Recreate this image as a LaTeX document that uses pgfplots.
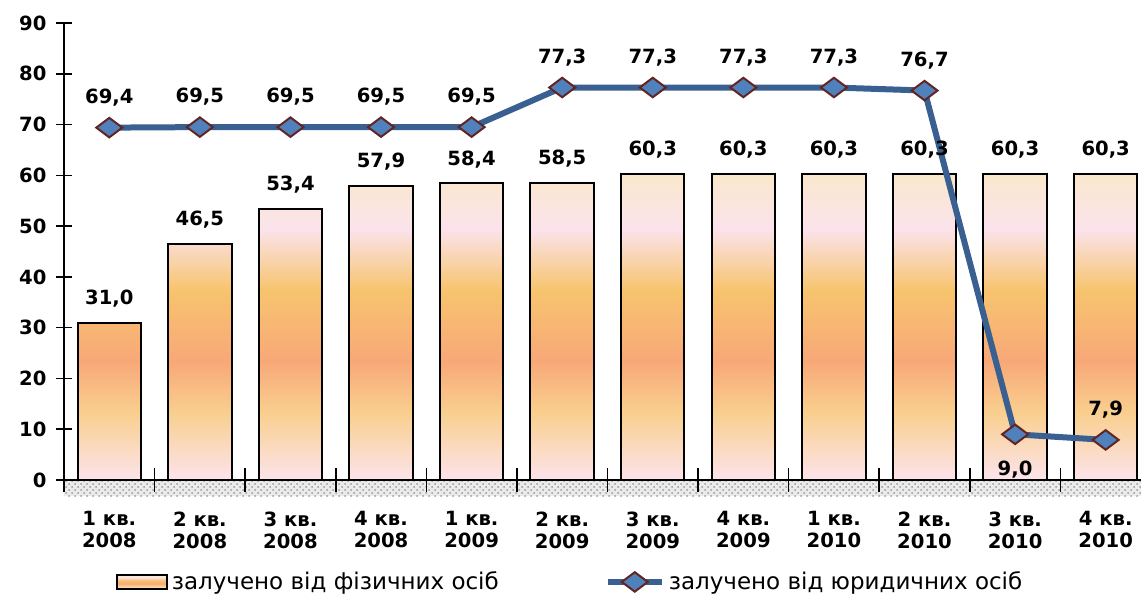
\documentclass[border=0pt]{standalone}
\usepackage{fontspec}
\setmainfont{DejaVu Sans}
\usepackage{pgfplots}
\usepackage{pgfplotstable}
\pgfplotsset{compat=1.18}
\usetikzlibrary{patterns}

\definecolor{pinkb}{HTML}{FCE4EC}
\definecolor{yel}{HTML}{F9CF8F}
\definecolor{sal}{HTML}{F8A878}
\definecolor{yo}{HTML}{F7C46E}
\definecolor{pinkt}{HTML}{FBE3EC}
\definecolor{beige}{HTML}{FAE8CC}
\definecolor{lineblue}{HTML}{3A6091}
\definecolor{mkfill}{HTML}{4F81BD}
\definecolor{mkdraw}{HTML}{632523}

\pgfdeclareverticalshading{barshade}{100bp}{color(0bp)=(pinkb); color(25bp)=(pinkb); color(36bp)=(yel); color(44.5bp)=(sal); color(56bp)=(yo); color(66bp)=(pinkt); color(75bp)=(beige); color(100bp)=(beige)}

\pgfplotsset{
  barleg/.style={legend image code/.code={\draw[##1, line width=0.8pt] (0pt,-3.5pt) rectangle (25pt,3.5pt);}},
  lineleg/.style={legend image code/.code={\draw[##1, mark repeat=2, mark phase=2] plot coordinates {(0pt,0pt) (13.5pt,0pt) (27pt,0pt)};}},
}

\pgfplotstableread{
x y
0 31.0
1 46.5
2 53.4
3 57.9
4 58.4
5 58.5
6 60.3
7 60.3
8 60.3
9 60.3
10 60.3
11 60.3
}\physical

\pgfplotstableread{
x y dy
0 69.4 15
1 69.5 15
2 69.5 15
3 69.5 15
4 69.5 15
5 77.3 15
6 77.3 15
7 77.3 15
8 77.3 15
9 76.7 15
10 9.0 -17.5
11 7.9 15
}\legal

\newcommand{\lblfont}{\bfseries\fontsize{9.8}{11}\selectfont}

\begin{document}
\begin{tikzpicture}
\useasboundingbox (-32pt,-57.5pt) rectangle (538.5pt,240pt);
\fill[black!8] (0pt,0pt) rectangle (538.5pt,-8pt);
\fill[pattern=crosshatch dots, pattern color=black!40] (0pt,0pt) rectangle (538.5pt,-8pt);
\begin{axis}[
  scale only axis,
  width=538.5pt, height=228.5pt,
  xmin=-0.5, xmax=11.39,
  ymin=0, ymax=90,
  clip=false,
  axis lines=left,
  axis line style={-, line width=1pt, black},
  ytick={0,10,...,90},
  xtick={0,...,11},
  xticklabels={{1 кв.\\2008},{2 кв.\\2008},{3 кв.\\2008},{4 кв.\\2008},{1 кв.\\2009},{2 кв.\\2009},{3 кв.\\2009},{4 кв.\\2009},{1 кв.\\2010},{2 кв.\\2010},{3 кв.\\2010},{4 кв.\\2010}},
  major x tick style={draw=none},
  minor xtick={-0.5,0.5,...,10.5},
  minor x tick style={black, line width=0.8pt},
  minor tick length=12pt,
  major tick length=8.5pt,
  y tick style={black, line width=0.8pt},
  tick align=center,
  /pgf/number format/assume math mode=true,
  ticklabel style={font=\lblfont},
  xticklabel style={align=center, yshift=-8pt},
  yticklabel style={xshift=-1pt},
  legend columns=2,
  legend style={draw=none, fill=none, at={(0.471,-0.223)}, anchor=center,
    font=\fontsize{11.5}{13}\selectfont,
    /tikz/every even column/.append style={column sep=51pt}},
]
\addplot[ybar, bar width=0.7, draw=black, line width=1pt, shade, shading=barshade,
  point meta=y, barleg,
  nodes near coords={\pgfmathprintnumber[fixed,fixed zerofill,precision=1,use comma,assume math mode=true]{\pgfplotspointmeta}},
  every node near coord/.append style={font=\lblfont, text=black, yshift=4pt},
] table[x=x, y=y] {\physical};
\addlegendentry{залучено від фізичних осіб}

\addplot[lineblue, line width=3pt, mark=diamond*, mark size=6.5pt,
  mark options={fill=mkfill, draw=mkdraw, line width=1pt, rotate=90, solid},
  point meta=y, forget plot,
  visualization depends on={\thisrow{dy} \as \dy},
  nodes near coords={\pgfmathprintnumber[fixed,fixed zerofill,precision=1,use comma,assume math mode=true]{\pgfplotspointmeta}},
  every node near coord/.append style={font=\lblfont, text=black, anchor=center, yshift=\dy pt},
] table[x=x, y=y] {\legal};
\addlegendimage{lineblue, line width=3pt, mark=diamond*, mark size=6.5pt,
  mark options={fill=mkfill, draw=mkdraw, line width=1pt, rotate=90, solid}, lineleg}
\addlegendentry{залучено від юридичних осіб}
\end{axis}
\end{tikzpicture}
\end{document}
